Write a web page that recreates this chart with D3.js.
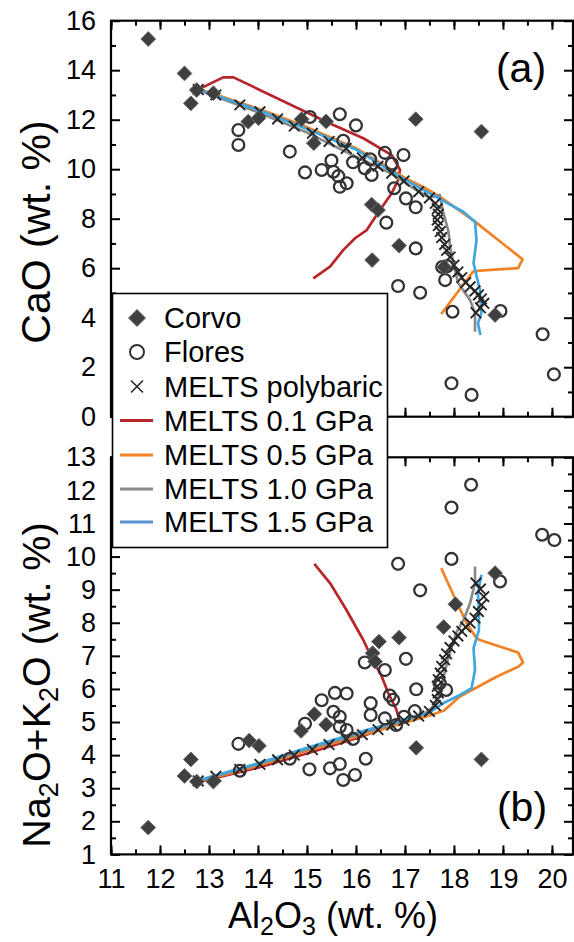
<!DOCTYPE html>
<html>
<head>
<meta charset="utf-8">
<script src="https://cdn.jsdelivr.net/npm/d3@7"></script>
<style>
  html, body { margin: 0; padding: 0; background: #fff; }
  svg { display: block; font-family: "Liberation Sans", Arial, Helvetica, sans-serif; }
</style>
</head>
<body>
<svg id="chart" width="574" height="942"></svg>
<script>
// ---- Data: Al2O3 (wt.%) vs CaO (panel a) and Na2O+K2O (panel b) ----
const xTicks = [11, 12, 13, 14, 15, 16, 17, 18, 19, 20];
const caoTicks = [0, 2, 4, 6, 8, 10, 12, 14, 16];
const alkTicks = [1, 2, 3, 4, 5, 6, 7, 8, 9, 10, 11, 12, 13];

// Corvo samples [Al2O3, CaO] and [Al2O3, Na2O+K2O]
const corvoCaO = [[11.76,15.26],[12.50,13.87],[12.63,12.66],[12.75,13.20],[13.09,13.07],[13.80,11.92],[14.01,12.06],
  [14.89,12.02],[15.14,11.05],[15.39,11.93],[16.32,8.57],[16.45,8.35],[16.33,6.33],[16.88,6.91],[17.22,12.02],
  [18.56,11.52],[18.84,4.11],[17.80,6.05]];
const corvoAlk = [[11.76,1.81],[12.50,3.37],[12.63,3.87],[12.75,3.20],[13.09,3.20],[13.82,4.44],[14.02,4.28],
  [14.88,4.73],[15.15,5.24],[15.39,4.92],[16.34,7.08],[16.39,6.83],[16.47,7.43],[16.88,7.55],[17.23,4.22],
  [17.79,7.87],[18.03,8.56],[18.56,3.87],[18.84,9.50]];

// Flores samples
const floresCaO = [[13.60,11.58],[13.60,10.98],[14.65,10.71],[14.96,9.87],[15.06,12.11],[15.30,9.97],[15.50,10.35],
  [15.54,9.90],[15.64,9.72],[15.67,9.29],[15.67,12.22],[15.74,11.15],[15.81,9.43],[15.94,10.28],[16.00,11.77],
  [16.18,10.04],[16.29,10.40],[16.32,9.77],[16.59,10.66],[16.73,10.22],[16.97,10.57],[16.78,9.23],[17.02,8.82],
  [17.22,8.46],[16.62,7.84],[17.22,6.80],[17.76,6.05],[17.86,6.08],[17.82,5.52],[16.86,5.28],[17.31,5.01],
  [17.97,4.24],[18.95,4.27],[19.81,3.33],[20.04,1.71],[17.95,1.35],[18.36,0.88]];
const floresAlk = [[13.60,4.34],[13.63,3.53],[14.65,3.89],[14.96,4.95],[15.05,3.57],[15.30,5.66],[15.47,3.60],
  [15.54,5.31],[15.57,5.88],[15.67,5.16],[15.67,4.86],[15.67,3.73],[15.74,3.25],[15.81,5.86],[15.81,4.76],
  [15.94,4.49],[15.98,3.40],[16.20,3.89],[16.18,6.80],[16.30,5.57],[16.30,5.21],[16.59,6.57],[16.59,5.11],
  [16.69,5.80],[16.76,5.67],[16.82,4.91],[16.98,5.16],[17.02,6.91],[17.20,5.33],[17.23,5.99],[16.86,9.78],
  [17.31,8.98],[17.95,9.93],[17.95,11.48],[18.35,12.17],[18.94,9.25],[19.80,10.66],[20.05,10.50],[17.84,5.97],
  [17.71,6.17]];

// MELTS polybaric model steps
const polyAl  = [12.78,13.14,13.63,14.04,14.40,14.74,15.11,15.45,15.80,16.13,16.45,16.73,16.98,17.28,17.50,17.62,
  17.66,17.68,17.66,17.68,17.72,17.75,17.81,17.85,17.92,18.00,18.08,18.16,18.24,18.33,18.43,18.50,18.56,18.61,18.54,18.45];
const polyCaO = [13.22,13.00,12.60,12.32,12.03,11.74,11.45,11.12,10.84,10.46,10.12,9.84,9.52,9.09,8.84,8.62,
  8.40,8.18,7.95,7.72,7.48,7.24,6.96,6.72,6.45,6.12,5.85,5.62,5.42,5.25,5.08,4.92,4.76,4.58,4.40,4.20];
const polyAlk = [3.22,3.36,3.57,3.72,3.86,4.00,4.17,4.32,4.48,4.62,4.77,4.91,5.05,5.18,5.32,5.50,
  5.68,5.88,6.08,6.28,6.48,6.68,6.88,7.06,7.25,7.45,7.60,7.74,7.87,7.99,8.14,8.34,8.54,8.79,9.02,9.20];

// MELTS isobaric paths
const melts01CaO = [[12.78,13.22],[13.29,13.71],[13.50,13.71],[15.47,11.85],[16.15,11.25],[16.73,10.57],[16.90,9.97],
  [16.86,9.56],[16.73,9.03],[16.49,8.35],[16.22,7.54],[15.98,7.21],[15.74,6.73],[15.47,6.06],[15.13,5.59]];
const melts05CaO = [[12.78,13.25],[14.0,12.45],[15.0,11.70],[16.0,10.85],[17.0,9.65],[17.4,9.25],[17.71,8.89],
  [18.1,8.35],[18.43,7.88],[19.40,6.36],[19.31,6.00],[18.53,5.90],[18.39,5.86],[17.74,4.15]];
const melts10CaO = [[12.78,13.20],[14.0,12.30],[15.0,11.48],[16.0,10.50],[16.7,9.85],[17.2,9.20],[17.5,8.85],
  [17.71,8.96],[17.78,8.28],[17.89,7.47],[17.92,6.87],[18.02,5.93],[18.09,5.39],[18.33,4.71],[18.43,4.18],[18.43,3.43]];
const melts15CaO = [[12.78,13.22],[14.0,12.40],[15.0,11.62],[16.0,10.80],[17.0,9.58],[17.38,9.16],[17.8,8.70],
  [18.19,8.28],[18.43,7.88],[18.46,7.14],[18.40,6.20],[18.53,5.12],[18.56,4.18],[18.49,3.77],[18.54,3.30]];

const melts01Alk = [[12.78,3.18],[14.0,3.62],[15.0,4.05],[16.0,4.50],[16.9,4.98],[16.82,5.40],[16.66,5.87],
  [16.52,6.40],[16.35,6.85],[16.15,7.48],[15.80,8.40],[15.47,9.20],[15.15,9.78]];
const melts05Alk = [[12.78,3.20],[14.0,3.68],[15.0,4.13],[16.0,4.55],[17.0,4.98],[17.5,5.20],[17.8,5.35],
  [18.12,5.77],[18.87,6.37],[19.31,6.67],[19.41,6.80],[19.31,7.10],[18.53,7.48],[18.46,7.53],[18.26,7.99],
  [18.02,8.74],[17.74,9.65]];
const melts10Alk = [[12.78,3.22],[14.0,3.72],[15.0,4.18],[16.0,4.60],[17.0,5.05],[17.4,5.25],[17.6,5.50],
  [17.7,5.90],[17.78,6.30],[17.86,6.80],[17.96,7.30],[18.05,7.70],[18.2,8.10],[18.33,8.60],[18.43,9.20],[18.43,9.70]];
const melts15Alk = [[12.78,3.24],[14.0,3.75],[15.0,4.22],[16.0,4.67],[17.0,5.08],[17.5,5.28],[17.78,5.57],
  [18.1,5.80],[18.36,6.02],[18.43,6.57],[18.40,7.23],[18.51,7.78],[18.51,8.39],[18.49,8.89],[18.56,9.45]];

const legendLabels = ["Corvo", "Flores", "MELTS polybaric", "MELTS 0.1 GPa", "MELTS 0.5 GPa", "MELTS 1.0 GPa", "MELTS 1.5 GPa"];

// ---- Styling ----
const C01 = "#b8262b", C05 = "#f28226", C10 = "#8a8a8a", C15 = "#3ea6e0", C15legend = "#5a8fd2";

const svg = d3.select("#chart");
const x = d3.scaleLinear().domain([11, 20.43]).range([111, 573]);
const yA = d3.scaleLinear().domain([0, 16]).range([416.7, 20.7]);
const yB = d3.scaleLinear().domain([1, 13]).range([854.4, 457.3]);

const halfSteps = (a, b, s) => d3.range(a, b + 1e-9, s);

function panel(y, id, minorY, majorY, pts) {
  const [x0, x1] = x.range();
  const [yb, yt] = y.range();
  const g = svg.append("g");
  g.append("clipPath").attr("id", id).append("rect")
    .attr("x", x0).attr("y", yt).attr("width", x1 - x0).attr("height", yb - yt);

  const data = g.append("g").attr("clip-path", `url(#${id})`);
  const line = d3.line().x(d => x(d[0])).y(d => y(d[1]));
  [[pts.l01, C01], [pts.l05, C05], [pts.l10, C10], [pts.l15, C15]].forEach(([d, c]) => {
    data.append("path").datum(d).attr("d", line).attr("fill", "none")
      .attr("stroke", c).attr("stroke-width", 2.7).attr("stroke-linejoin", "round");
  });
  // polybaric crosses
  data.selectAll(".px").data(pts.poly).join("path")
    .attr("transform", d => `translate(${x(d[0])},${y(d[1])})`)
    .attr("d", "M-5.3,-5.3L5.3,5.3M-5.3,5.3L5.3,-5.3")
    .attr("stroke", "#262626").attr("stroke-width", 1.9).attr("fill", "none");
  // Flores circles
  data.selectAll(".fc").data(pts.flores).join("circle")
    .attr("cx", d => x(d[0])).attr("cy", d => y(d[1])).attr("r", 5.9)
    .attr("fill", "none").attr("stroke", "#333").attr("stroke-width", 2.3);
  // Corvo diamonds
  data.selectAll(".cd").data(pts.corvo).join("path")
    .attr("transform", d => `translate(${x(d[0])},${y(d[1])})`)
    .attr("d", "M0,-7.4L7.4,0L0,7.4L-7.4,0Z")
    .attr("fill", "#3f3f3f").attr("stroke", "#6a6a6a").attr("stroke-width", 1);

  // axes: inward ticks on all four sides
  const axG = g.append("g").attr("class", "axes");
  const style = s => {
    s.select(".domain").remove();
    s.selectAll("line").attr("stroke", "#000").attr("stroke-width", 2);
  };
  const xMinor = halfSteps(11, 20.4, 0.5);
  axG.append("g").attr("transform", `translate(0,${yt})`)
    .call(d3.axisTop(x).tickValues(xMinor).tickSize(-5).tickFormat("")).call(style);
  axG.append("g").attr("transform", `translate(0,${yt})`)
    .call(d3.axisTop(x).tickValues(xTicks).tickSize(-9).tickFormat("")).call(style);
  axG.append("g").attr("transform", `translate(0,${yb})`)
    .call(d3.axisBottom(x).tickValues(xMinor).tickSize(-5).tickFormat("")).call(style);
  axG.append("g").attr("transform", `translate(0,${yb})`)
    .call(d3.axisBottom(x).tickValues(xTicks).tickSize(-9).tickFormat("")).call(style);
  axG.append("g").attr("transform", `translate(${x0},0)`)
    .call(d3.axisLeft(y).tickValues(minorY).tickSize(-5).tickFormat("")).call(style);
  axG.append("g").attr("transform", `translate(${x0},0)`).attr("class", "ylab")
    .call(d3.axisLeft(y).tickValues(majorY).tickSize(-9).tickPadding(15).tickFormat(d3.format("d"))).call(style);
  axG.append("g").attr("transform", `translate(${x1},0)`)
    .call(d3.axisRight(y).tickValues(minorY).tickSize(-5).tickFormat("")).call(style);
  axG.append("g").attr("transform", `translate(${x1},0)`)
    .call(d3.axisRight(y).tickValues(majorY).tickSize(-9).tickFormat("")).call(style);
  axG.selectAll(".ylab text").attr("font-size", 27).attr("fill", "#000")
    .attr("font-family", "Liberation Sans, Arial, sans-serif");

  g.append("rect").attr("x", x0).attr("y", yt).attr("width", x1 - x0).attr("height", yb - yt)
    .attr("fill", "none").attr("stroke", "#000").attr("stroke-width", 2.2);
  return g;
}

panel(yA, "clipA", d3.range(1, 16, 2), caoTicks, {
  l01: melts01CaO, l05: melts05CaO, l10: melts10CaO, l15: melts15CaO,
  poly: polyAl.map((a, i) => [a, polyCaO[i]]), flores: floresCaO, corvo: corvoCaO
});
panel(yB, "clipB", halfSteps(1.5, 12.5, 1), alkTicks, {
  l01: melts01Alk, l05: melts05Alk, l10: melts10Alk, l15: melts15Alk,
  poly: polyAl.map((a, i) => [a, polyAlk[i]]), flores: floresAlk, corvo: corvoAlk
});

// x tick labels under panel (b)
const xl = svg.append("g").attr("transform", `translate(0,${yB.range()[0]})`)
  .call(d3.axisBottom(x).tickValues(xTicks).tickSize(0).tickPadding(14).tickFormat(d3.format("d")));
xl.select(".domain").remove();
xl.selectAll("text").attr("font-size", 27).attr("fill", "#000")
  .attr("font-family", "Liberation Sans, Arial, sans-serif");

// panel tags
svg.append("text").attr("x", 521).attr("y", 82).attr("text-anchor", "middle")
  .attr("font-size", 41).text("(a)");
svg.append("text").attr("x", 522).attr("y", 821).attr("text-anchor", "middle")
  .attr("font-size", 41).text("(b)");

// axis titles
const xt = svg.append("text").attr("x", 333).attr("y", 928).attr("text-anchor", "middle").attr("font-size", 36);
xt.append("tspan").text("Al");
xt.append("tspan").attr("font-size", 25).attr("dy", 7).text("2");
xt.append("tspan").attr("dy", -7).text("O");
xt.append("tspan").attr("font-size", 25).attr("dy", 7).text("3");
xt.append("tspan").attr("dy", -7).text(" (wt. %)");

svg.append("text").attr("transform", "translate(50,232) rotate(-90)")
  .attr("text-anchor", "middle").attr("font-size", 41).text("CaO (wt. %)");

const yt2 = svg.append("text").attr("transform", "translate(50,685) rotate(-90)")
  .attr("text-anchor", "middle").attr("font-size", 39.5);
yt2.append("tspan").text("Na");
yt2.append("tspan").attr("font-size", 27).attr("dy", 8).text("2");
yt2.append("tspan").attr("dy", -8).text("O+K");
yt2.append("tspan").attr("font-size", 27).attr("dy", 8).text("2");
yt2.append("tspan").attr("dy", -8).text("O (wt. %)");

// legend
const lg = svg.append("g");
lg.append("rect").attr("x", 112.5).attr("y", 293.5).attr("width", 275).attr("height", 254)
  .attr("fill", "#fff").attr("stroke", "#000").attr("stroke-width", 1.6);
const rows = [318, 352, 386.5, 420.5, 455, 489, 522];
const symX = 137;
lg.append("path").attr("transform", `translate(${symX},${rows[0]})`)
  .attr("d", "M0,-8.5L8.5,0L0,8.5L-8.5,0Z").attr("fill", "#3f3f3f").attr("stroke", "#6a6a6a");
lg.append("circle").attr("cx", symX).attr("cy", rows[1]).attr("r", 7)
  .attr("fill", "none").attr("stroke", "#333").attr("stroke-width", 2);
lg.append("path").attr("transform", `translate(${symX},${rows[2]})`)
  .attr("d", "M-6,-6L6,6M-6,6L6,-6").attr("stroke", "#262626").attr("stroke-width", 1.6);
[C01, C05, C10, C15legend].forEach((c, i) => {
  lg.append("line").attr("x1", 120).attr("x2", 153).attr("y1", rows[3 + i]).attr("y2", rows[3 + i])
    .attr("stroke", c).attr("stroke-width", 3);
});
legendLabels.forEach((t, i) => {
  lg.append("text").attr("x", 164).attr("y", rows[i]).attr("dy", "0.36em")
    .attr("font-size", 29).text(t);
});
</script>
</body>
</html>
